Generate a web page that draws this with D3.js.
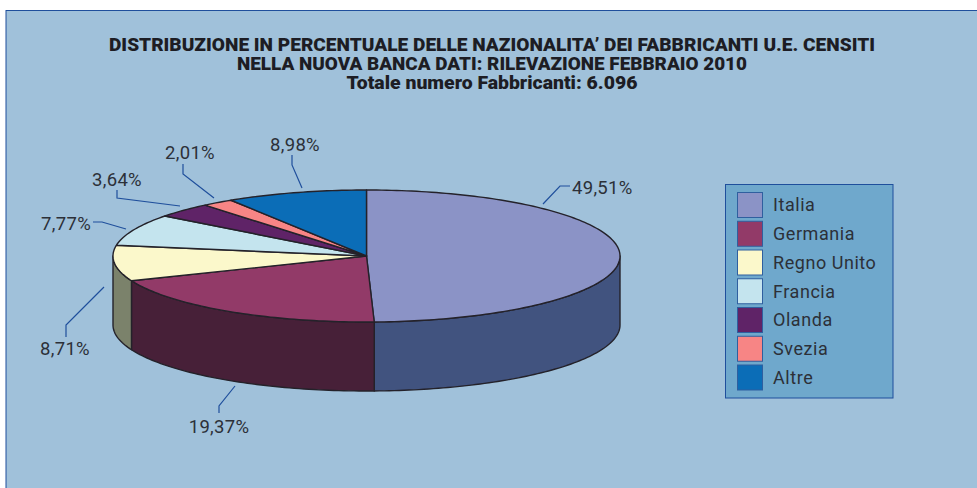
<!DOCTYPE html>
<html><head><meta charset="utf-8">
<script src="https://cdn.jsdelivr.net/npm/d3@7"></script>
<style>html,body{margin:0;padding:0;background:#fff;overflow:hidden}svg{display:block}text{font-family:Roboto,sans-serif}</style>
</head><body><svg id="c" width="977" height="488"></svg>
<script>
const categories=["Italia","Germania","Regno Unito","Francia","Olanda","Svezia","Altre"];
const values=[49.51,19.37,8.71,7.77,3.64,2.01,8.98];
const valueLabels=["49,51%","19,37%","8,71%","7,77%","3,64%","2,01%","8,98%"];
const topColors=["#8b93c6","#923a68","#fbf8cb","#c4e4ee","#5f2367","#f78585","#0b6db7"];
const sideColors=["#41537f","#472038","#7b826b","#7b826b","#3a1a40","#8a4a4a","#07416e"];
const titleLines=["DISTRIBUZIONE IN PERCENTUALE DELLE NAZIONALITA’ DEI FABBRICANTI U.E. CENSITI","NELLA NUOVA BANCA DATI: RILEVAZIONE FEBBRAIO 2010","Totale numero Fabbricanti: 6.096"];

const svg=d3.select("#c");
const blue="#1f4f9c";
svg.append("rect").attr("x",6).attr("y",10.5).attr("width",975).attr("height",490)
  .attr("fill","#a0c1da").attr("stroke",blue).attr("stroke-width",1);

svg.selectAll("text.title").data(titleLines).join("text").attr("class","title")
  .attr("x",492).attr("y",(d,i)=>50.5+i*19).attr("text-anchor","middle")
  .attr("font-size",17.5).attr("font-weight",900).attr("fill","#1d1d24").text(d=>d)
  .attr("textLength",(d,i)=>[766,510,291][i]).attr("lengthAdjust","spacingAndGlyphs");

// pie geometry
const cx=366.5,cy=256,rx=253.5,ry=66,depth=69;
const sx=d3.scaleLinear().domain([-1,1]).range([cx-rx,cx+rx]);
const sy=d3.scaleLinear().domain([-1,1]).range([cy-ry,cy+ry]);
const px=a=>sx(Math.sin(a)), py=a=>sy(-Math.cos(a));
const arcs=d3.pie().sort(null).value(d=>d)(values);
const samples=(a0,a1)=>{const n=Math.max(2,Math.ceil((a1-a0)/0.02));return d3.range(n+1).map(i=>a0+(a1-a0)*i/n);};
const line=d3.line().x(d=>d[0]).y(d=>d[1]);

// sides: only the front half of the rim is visible
const g=svg.append("g").attr("stroke","#24222a").attr("stroke-width",1.4).attr("stroke-linejoin","round");
arcs.forEach((a,i)=>{
  const a0=Math.max(a.startAngle,Math.PI/2),a1=Math.min(a.endAngle,Math.PI*1.5);
  if(a1<=a0)return;
  const s=samples(a0,a1);
  const pts=s.map(t=>[px(t),py(t)]).concat(s.slice().reverse().map(t=>[px(t),py(t)+depth]));
  g.append("path").attr("d",line(pts)+"Z").attr("fill",sideColors[i]);
});
// top slices
arcs.forEach((a,i)=>{
  const pts=[[cx,cy]].concat(samples(a.startAngle,a.endAngle).map(t=>[px(t),py(t)]));
  g.append("path").attr("d",line(pts)+"Z").attr("fill",topColors[i]);
});

// labels and leaders
const labelX=[572,219,65,91,117,190,295], labelY=[188,427,349,224,180,153,145];
const labelAnchor=["start","middle","middle","end","middle","middle","middle"];
const leaders=[
 [[570,186],[560,186],[543,204]],
 [[219,413],[219,406],[235,386]],
 [[66,337],[66,325],[104,287]],
 [[93,222],[102,222],[126,229]],
 [[117,190],[117,198],[180,206]],
 [[183,164],[183,174],[214,198]],
 [[292,155],[292,165],[302,188]]];
svg.append("g").selectAll("path").data(leaders).join("path").attr("d",line).attr("fill","none")
  .attr("stroke",blue).attr("stroke-width",1.2);
svg.append("g").selectAll("text").data(valueLabels).join("text")
  .attr("x",(d,i)=>labelX[i]).attr("y",(d,i)=>labelY[i]).attr("dy","0.35em")
  .attr("text-anchor",(d,i)=>labelAnchor[i]).attr("font-size",18.5).attr("letter-spacing",0.3)
  .attr("fill","#2c3038").text(d=>d);

// legend
svg.append("rect").attr("x",725.5).attr("y",184.5).attr("width",167.5).attr("height",213.5)
  .attr("fill","#6fa8cc").attr("stroke",blue).attr("stroke-width",1);
const ly=d3.scalePoint().domain(categories).range([205,377.5]);
const lg=svg.append("g").selectAll("g").data(categories).join("g")
  .attr("transform",d=>`translate(0,${ly(d)})`);
lg.append("rect").attr("x",737.5).attr("y",-12.5).attr("width",25).attr("height",25)
  .attr("fill",(d,i)=>topColors[i]).attr("stroke","#2f5f9f").attr("stroke-width",1);
lg.append("text").attr("x",773).attr("dy","0.35em").attr("font-size",18).attr("letter-spacing",0.55)
  .attr("fill","#2c3038").text(d=>d);
</script></body></html>
